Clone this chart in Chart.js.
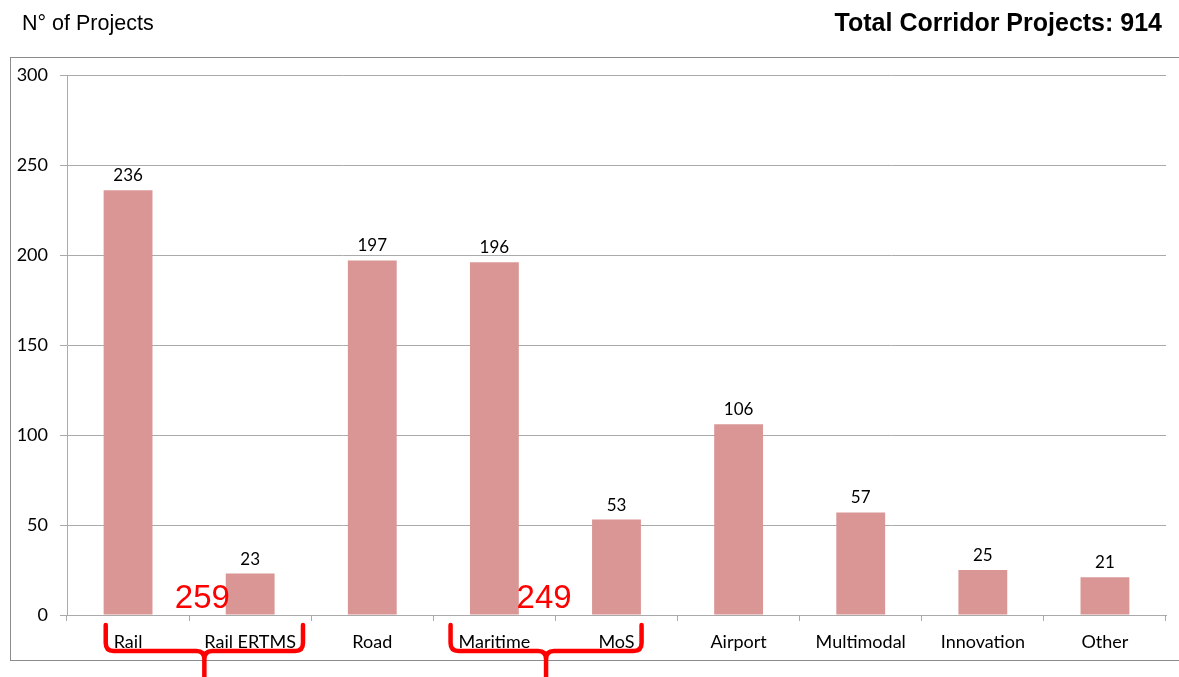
<!DOCTYPE html>
<html>
<head>
<meta charset="utf-8">
<title>Corridor projects</title>
<script src="https://cdn.jsdelivr.net/npm/chart.js@4.4.1/dist/chart.umd.min.js"></script>
<style>
  body { margin: 0; background: #fff; }
  #wrap { width: 1179px; height: 677px; }
</style>
</head>
<body>
<div id="wrap"><canvas id="myChart" width="1179" height="677"></canvas></div>
<script>
// data
const categories = ['Rail', 'Rail ERTMS', 'Road', 'Maritime', 'MoS', 'Airport', 'Multimodal', 'Innovation', 'Other'];
const projects = [236, 23, 197, 196, 53, 106, 57, 25, 21];
const yTicks = [0, 50, 100, 150, 200, 250, 300];
const braceGroups = [['Rail', 'Rail ERTMS'], ['Maritime', 'MoS']];

const totalProjects = projects.reduce((a, b) => a + b, 0);

const labelFont = '18px Lato';
const gridColor = '#aaaaaa';

// frame, headings, value labels, red braces
const decorations = {
  id: 'decorations',
  beforeDraw(chart) {
    const ctx = chart.ctx;
    ctx.save();
    ctx.strokeStyle = '#8c8c8c';
    ctx.lineWidth = 1;
    ctx.strokeRect(10.5, 57.5, 1190, 603);
    ctx.restore();
  },
  afterDatasetsDraw(chart) {
    const ctx = chart.ctx;
    const meta = chart.getDatasetMeta(0);
    ctx.save();
    ctx.fillStyle = '#000';
    ctx.font = '17px Lato';
    ctx.textAlign = 'center';
    ctx.textBaseline = 'alphabetic';
    meta.data.forEach((bar, i) => {
      ctx.fillText(projects[i], bar.x, bar.y - 9);
    });
    ctx.restore();
  },
  afterDraw(chart) {
    const ctx = chart.ctx;
    const x = chart.scales.x;
    const area = chart.chartArea;

    ctx.save();
    ctx.fillStyle = '#000';
    ctx.textBaseline = 'alphabetic';
    ctx.font = '21.5px "Liberation Sans", Arial';
    ctx.textAlign = 'left';
    ctx.fillText('N° of Projects', 22, 30);
    ctx.font = 'bold 25px "Liberation Sans", Arial';
    ctx.textAlign = 'right';
    ctx.fillText('Total Corridor Projects: ' + totalProjects, 1162, 31);

    ctx.font = labelFont;
    ctx.strokeStyle = '#ff0000';
    ctx.fillStyle = '#ff0000';
    ctx.lineWidth = 4.5;
    ctx.lineCap = 'round';
    ctx.lineJoin = 'round';

    braceGroups.forEach(group => {
      const i0 = categories.indexOf(group[0]);
      const i1 = categories.indexOf(group[group.length - 1]);
      ctx.font = labelFont;
      const left = x.getPixelForValue(i0) - ctx.measureText(categories[i0]).width / 2 - 8;
      const right = x.getPixelForValue(i1) + ctx.measureText(categories[i1]).width / 2 + 7;
      const mid = (left + right) / 2;
      const top = area.bottom + 10;
      const hy = area.bottom + 36;
      const r = 8;

      ctx.beginPath();
      ctx.moveTo(left, top);
      ctx.lineTo(left, hy - r);
      ctx.quadraticCurveTo(left, hy, left + r, hy);
      ctx.lineTo(mid - r, hy);
      ctx.quadraticCurveTo(mid, hy, mid, hy + r);
      ctx.lineTo(mid, chart.height + 2);
      ctx.moveTo(right, top);
      ctx.lineTo(right, hy - r);
      ctx.quadraticCurveTo(right, hy, right - r, hy);
      ctx.lineTo(mid + r, hy);
      ctx.quadraticCurveTo(mid, hy, mid, hy + r);
      ctx.stroke();

      let sum = 0;
      for (let i = i0; i <= i1; i++) sum += projects[i];
      ctx.font = '33px "Liberation Sans", Arial';
      ctx.textAlign = 'center';
      ctx.fillText(sum, mid - 2, area.bottom - 7);
    });
    ctx.restore();
  }
};

const ctx = document.getElementById('myChart').getContext('2d');
new Chart(ctx, {
  type: 'bar',
  data: {
    labels: categories,
    datasets: [{
      label: 'N° of Projects',
      data: projects,
      backgroundColor: '#d99694',
      borderWidth: 0,
      categoryPercentage: 1,
      barPercentage: 0.4
    }]
  },
  options: {
    responsive: false,
    devicePixelRatio: 1,
    animation: false,
    layout: { padding: { left: 0, right: 13, top: 75, bottom: 0 } },
    plugins: {
      legend: { display: false },
      tooltip: { enabled: false }
    },
    scales: {
      x: {
        afterFit(scale) { scale.height = 62; },
        grid: {
          offset: true,
          drawOnChartArea: false,
          tickLength: 6,
          color: gridColor
        },
        border: { color: gridColor },
        ticks: {
          color: '#000',
          font: { family: 'Lato', size: 18 },
          padding: 10,
          maxRotation: 0,
          autoSkip: false
        }
      },
      y: {
        min: 0,
        max: 300,
        afterFit(scale) { scale.width = 67; },
        afterBuildTicks(scale) { scale.ticks = yTicks.map(v => ({ value: v })); },
        grid: { color: gridColor, tickLength: 7 },
        border: { color: gridColor },
        ticks: {
          color: '#000',
          font: { family: 'Lato', size: 18 },
          padding: 12
        }
      }
    }
  },
  plugins: [decorations]
});
</script>
</body>
</html>
